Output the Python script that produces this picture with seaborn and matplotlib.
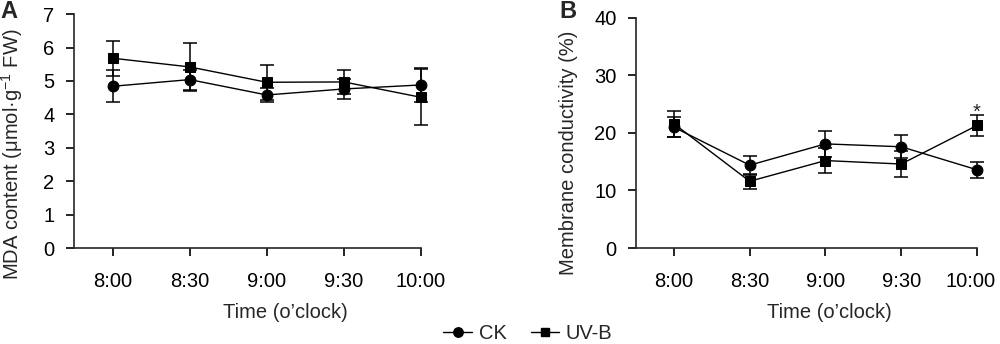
import numpy as np
import pandas as pd
import matplotlib
matplotlib.use("Agg")
import matplotlib.pyplot as plt
import matplotlib.transforms as mtransforms
import seaborn as sns
from matplotlib.lines import Line2D

# ---------------- data ----------------
times = ["8:00", "8:30", "9:00", "9:30", "10:00"]
groups = ["CK", "UV-B"]

mda_ck = [4.84, 5.04, 4.58, 4.76, 4.88]
mda_ck_err = [0.48, 0.30, 0.22, 0.29, 0.50]
mda_uv = [5.68, 5.42, 4.96, 4.97, 4.51]
mda_uv_err = [0.53, 0.71, 0.52, 0.37, 0.84]

cond_ck = [21.0, 14.4, 18.1, 17.6, 13.6]
cond_ck_err = [1.7, 1.65, 2.3, 2.0, 1.4]
cond_uv = [21.6, 11.6, 15.2, 14.6, 21.3]
cond_uv_err = [2.3, 1.3, 2.1, 2.2, 1.8]

sig_label = "*"
sig_index = 4
sig_value = 22.6

# ---------------- style ----------------
sns.set_theme(style="ticks")
plt.rcParams["font.family"] = ["Liberation Sans", "DejaVu Sans"]
plt.rcParams["mathtext.fontset"] = "custom"
plt.rcParams["mathtext.rm"] = "Liberation Sans"
plt.rcParams["mathtext.it"] = "Liberation Sans:italic"
plt.rcParams["axes.linewidth"] = 1.2
FS = 14.5

fig = plt.figure(figsize=(10, 3.44), dpi=100)
axA = fig.add_axes([0.074, 0.279, 0.347, 0.680])
axB = fig.add_axes([0.636, 0.279, 0.341, 0.669])

markers = {"CK": "o", "UV-B": "s"}
msize = {"CK": 7.8, "UV-B": 7.4}


def make_df(ck, uv):
    x = np.arange(len(times))
    return pd.DataFrame({
        "x": np.concatenate([x, x]),
        "val": list(ck) + list(uv),
        "group": [groups[0]] * len(times) + [groups[1]] * len(times),
    })


def draw(ax, ck, ck_err, uv, uv_err, ylim, yticks, ylabel, lab_xy, xlab_xy):
    df = make_df(ck, uv)
    x = np.arange(len(times))
    for vals, errs in ((ck, ck_err), (uv, uv_err)):
        ax.errorbar(x, vals, yerr=errs, fmt="none", ecolor="black",
                    elinewidth=1.1, capsize=5, capthick=1.1, zorder=2,
                    clip_on=False)
    for g in groups:
        sub = df[df["group"] == g]
        sns.lineplot(data=sub, x="x", y="val", ax=ax, color="black",
                     marker=markers[g], markersize=msize[g], linewidth=1.0,
                     markeredgecolor="black", markerfacecolor="black",
                     legend=False, zorder=3, clip_on=False)
    ax.set_xlim(-0.5, len(times) - 1)
    ax.set_ylim(*ylim)
    ax.set_xticks(x)
    ax.set_xticklabels(times, fontsize=FS)
    ax.set_yticks(yticks)
    ax.set_yticklabels([str(t) for t in yticks], fontsize=FS)
    ax.tick_params(axis="x", length=6, width=1.2, pad=11, colors="black")
    ax.tick_params(axis="y", length=6, width=1.2, pad=8, colors="black")
    ax.spines["top"].set_visible(False)
    ax.spines["right"].set_visible(False)
    ax.set_xlabel("Time (o\u2019clock)", fontsize=FS)
    ax.set_ylabel(ylabel, fontsize=FS)
    ax.yaxis.set_label_coords(*lab_xy)
    ax.xaxis.set_label_coords(*xlab_xy)


draw(axA, mda_ck, mda_ck_err, mda_uv, mda_uv_err, (0, 7), list(range(0, 8)),
     r"MDA content (μmol·g$^{-1}$ FW)", (-0.142, 0.40), (0.608, -0.235))
draw(axB, cond_ck, cond_ck_err, cond_uv, cond_uv_err, (0, 40),
     [0, 10, 20, 30, 40], "Membrane conductivity (%)", (-0.171, 0.415),
     (0.566, -0.24))

# nudge the last tick label of panel B left so it stays inside the figure
last = axB.get_xticklabels()[-1]
last.set_transform(last.get_transform() +
                   mtransforms.ScaledTranslation(-6 / 100, 0,
                                                 fig.dpi_scale_trans))

axB.text(sig_index, sig_value, sig_label, ha="center", va="baseline",
         fontsize=FS)

fig.text(0.0, 1.0, "A", fontsize=17, fontweight="bold", ha="left", va="top")
fig.text(0.559, 1.0, "B", fontsize=17, fontweight="bold", ha="left", va="top")

handles = [Line2D([], [], color="black", lw=1.0, marker=markers[g],
                  markersize=msize[g] - 1, markerfacecolor="black")
           for g in groups]
fig.legend(handles, groups, loc="center", bbox_to_anchor=(0.528, 0.03),
           ncol=2, frameon=False, fontsize=FS, handlelength=1.4,
           handletextpad=0.35, columnspacing=1.2, borderaxespad=0,
           borderpad=0)

fig.savefig("out.png", dpi=100)
